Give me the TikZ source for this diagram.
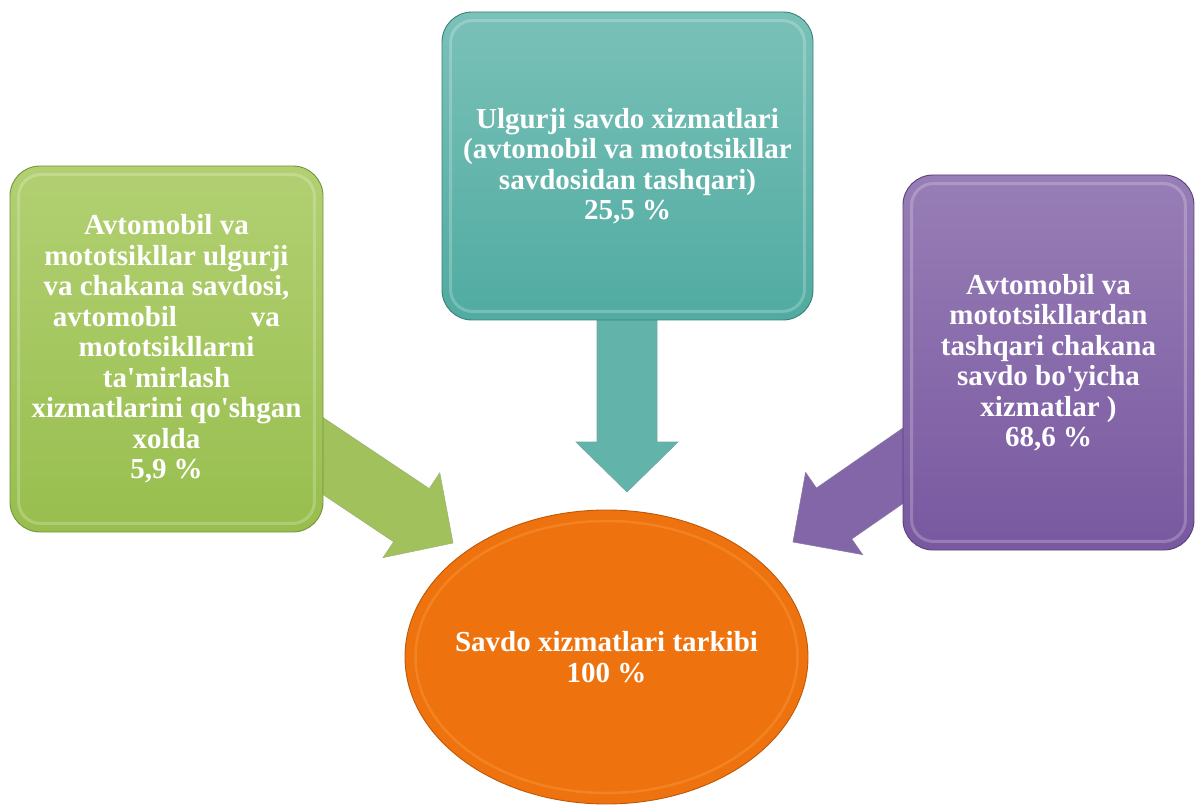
\documentclass[tikz,border=0pt]{standalone}
\usepackage{fontspec}
\setmainfont{Liberation Serif}[Ligatures=TeXOff]
\usetikzlibrary{calc,shapes.geometric,backgrounds}
\definecolor{grTop}{RGB}{178,208,114}
\definecolor{grBot}{RGB}{152,190,78}
\definecolor{grLine}{RGB}{118,146,60}
\definecolor{grArr}{RGB}{160,193,92}
\definecolor{tlTop}{RGB}{122,193,184}
\definecolor{tlBot}{RGB}{80,171,161}
\definecolor{tlLine}{RGB}{58,128,120}
\definecolor{tlArr}{RGB}{98,180,170}
\definecolor{puTop}{RGB}{152,126,182}
\definecolor{puBot}{RGB}{120,88,160}
\definecolor{puLine}{RGB}{90,64,122}
\definecolor{puArr}{RGB}{130,102,168}
\definecolor{orFill}{RGB}{238,115,14}
\definecolor{orLine}{RGB}{190,88,8}
\definecolor{orRing}{RGB}{250,150,60}
\tikzset{
  boxtxt/.style={text=white,font=\fontsize{29}{30.5}\selectfont\bfseries,align=center},
  bevelbox/.style={rectangle,rounded corners=30pt,line width=0.9pt,boxtxt},
  bevelline/.style={draw=white,draw opacity=0.22,line width=3pt,rounded corners=22pt},
  fatarr/.style={line width=0.6pt,line join=miter},
}
\newcommand\fatarrow[6]{%
  \coordinate (fa@B) at ($(#2)!#5!(#1)$);
  \path[fatarr,#6]
    ($(#1)!#3!90:(#2)$) --
    ($(fa@B)!#3!-90:(#1)$) --
    ($(fa@B)!#4!-90:(#1)$) --
    (#2) --
    ($(fa@B)!#4!90:(#1)$) --
    ($(fa@B)!#3!90:(#1)$) --
    ($(#1)!#3!-90:(#2)$) -- cycle;
}
\begin{document}
\begin{tikzpicture}[x=1pt,y=-1pt]
\useasboundingbox (0,0) rectangle (1195,805);

% boxes
\node[bevelbox,top color=grTop,bottom color=grBot,draw=grLine,
      minimum width=313pt,minimum height=366pt] (L) at (166.5,349)
  {Avtomobil va\\ mototsikllar ulgurji\\ va chakana savdosi,\\
   \makebox[227pt]{avtomobil\hfill va}\\ mototsikllarni\\ ta'mirlash\\
   xizmatlarini qo'shgan\\ xolda\\ 5,9 \%};
\node[bevelbox,top color=tlTop,bottom color=tlBot,draw=tlLine,
      minimum width=371pt,minimum height=308pt] (T) at (627.5,166)
  {Ulgurji savdo xizmatlari\\ (avtomobil va mototsikllar\\ savdosidan tashqari)\\ 25,5 \%};
\node[bevelbox,top color=puTop,bottom color=puBot,draw=puLine,
      minimum width=291pt,minimum height=375pt] (R) at (1048.5,362.5)
  {Avtomobil va\\ mototsikllardan\\ tashqari chakana\\ savdo bo'yicha\\ xizmatlar )\\ 68,6 \%};

% bevel highlights
\foreach \n in {L,T,R}{
  \draw[bevelline] ($(\n.south west)+(9,-9)$) rectangle ($(\n.north east)+(-9,9)$);
}

% centre ellipse
\node[ellipse,fill=orFill,draw=orLine,line width=0.9pt,
      minimum width=403pt,minimum height=294pt,inner sep=0pt] (E) at (606.5,657) {};
\draw[orRing,line width=2.5pt,opacity=0.45] (E.center) ellipse [x radius=191pt,y radius=136pt];
\node[boxtxt] (Etxt) at (E.center) {Savdo xizmatlari tarkibi\\ 100 \%};

% arrows (behind)
\begin{pgfonlayer}{background}
  \coordinate (la0) at (299,440);
  \coordinate (la1) at (453,543);
  \coordinate (ta0) at (627,290);
  \coordinate (ta1) at (627,492);
  \coordinate (ra0) at (930,447);
  \coordinate (ra1) at (793,542);
  \fatarrow{la0}{la1}{32pt}{51pt}{50pt}{fill=grArr,draw=grLine!70}
  \fatarrow{ta0}{ta1}{30pt}{51pt}{50pt}{fill=tlArr,draw=tlLine!70}
  \fatarrow{ra0}{ra1}{31pt}{50pt}{50pt}{fill=puArr,draw=puLine!70}
\end{pgfonlayer}
\end{tikzpicture}
\end{document}
